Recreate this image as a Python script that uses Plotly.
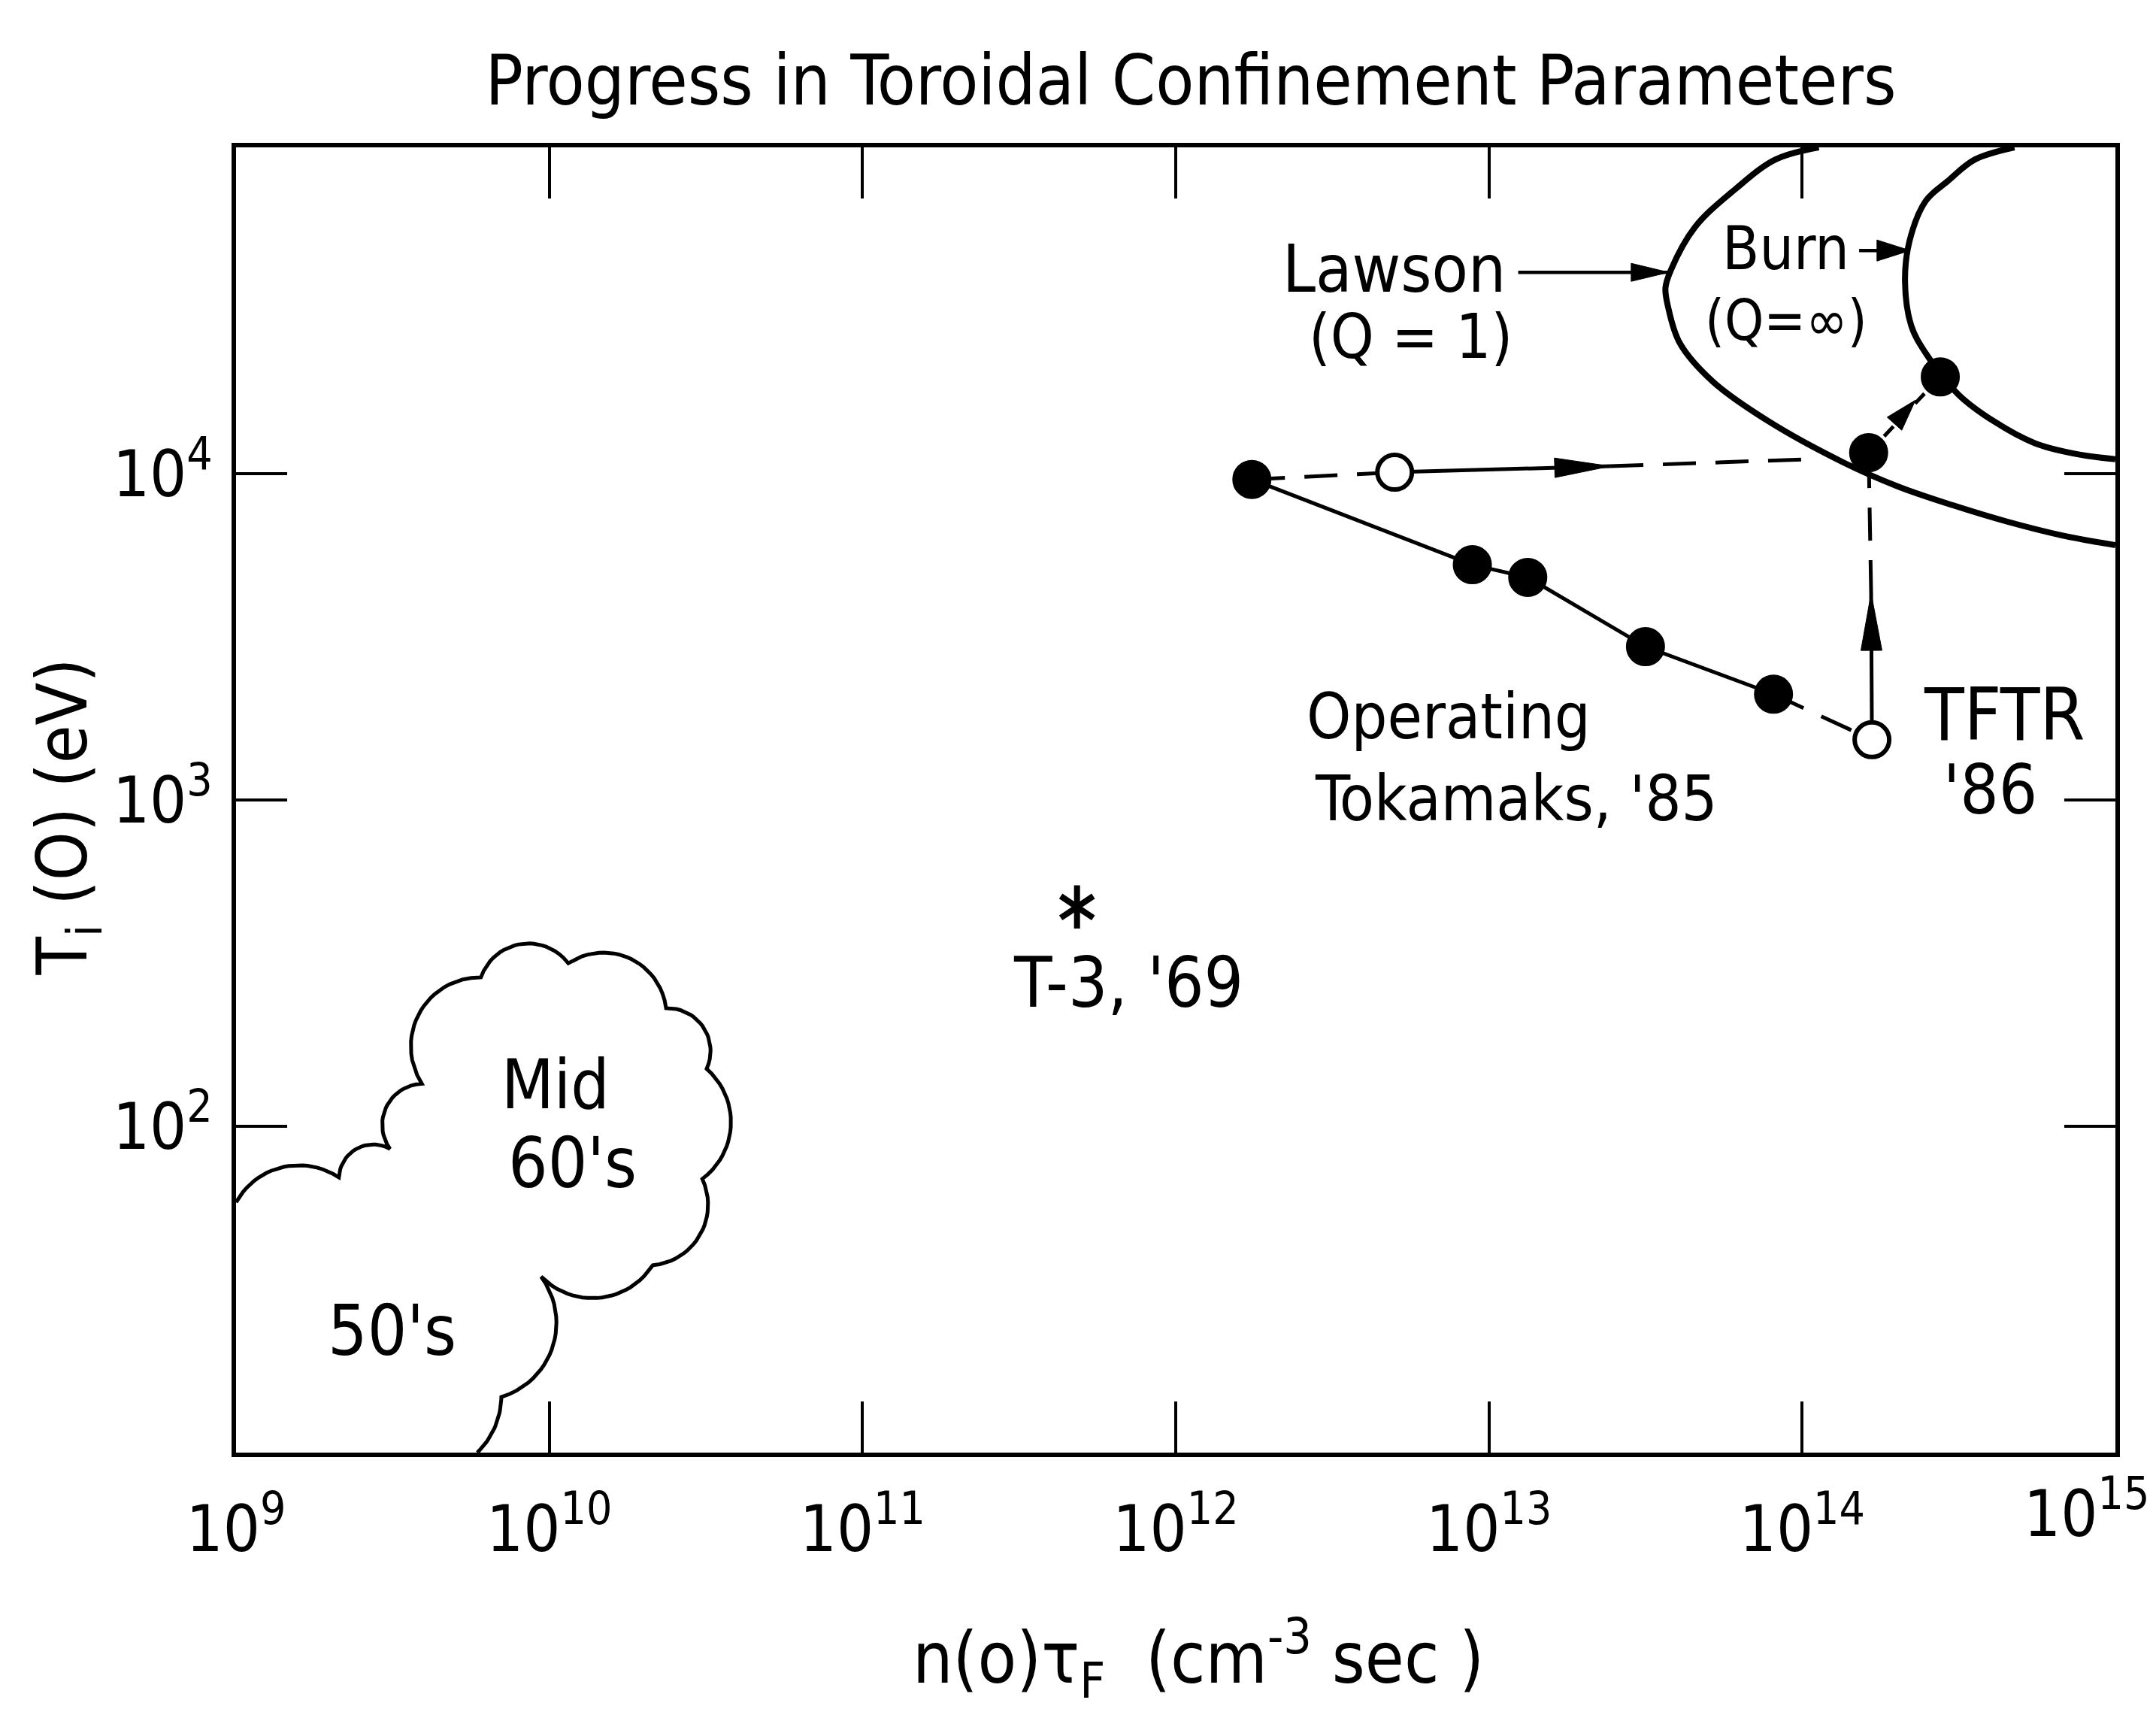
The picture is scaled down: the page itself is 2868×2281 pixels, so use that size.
import numpy as np
import plotly.graph_objects as go

# ---------------- values ----------------
# operating tokamaks, 1985 (filled dots on the solid line)
op_ntau = [1.75e12, 8.85e12, 1.33e13, 3.16e13, 8.1e13]
op_T = [9600, 5260, 4810, 2950, 2110]

# TFTR 1986 (open dot) and its projected path
tftr86_ntau, tftr86_T = 1.67e14, 1530
tftr_q1_ntau, tftr_q1_T = 1.63e14, 11600        # filled dot on the Lawson curve
tftr_burn_ntau, tftr_burn_T = 2.76e14, 19800    # filled dot on the burn curve
vert_tip_ntau, vert_tip_T = 1.66e14, 4300       # head of the upward arrow
diag_tip_ntau, diag_tip_T = 2.30e14, 16800      # small arrow between the two

# open dot at 10 keV and the horizontal path to the Lawson curve
hot_ntau, hot_T = 5.0e12, 10100
hor_tip_ntau, hor_tip_T = 2.44e13, 10540
hor_end_ntau, hor_end_T = 1.04e14, 11070

# T-3, 1969
t3_ntau, t3_T = 4.84e11, 470

# Lawson (Q = 1) curve
lawson_ntau = [1.13e14, 8.22e13, 6.10e13, 4.55e13, 3.81e13, 3.66e13, 3.73e13, 4.07e13,
               5.20e13, 7.78e13, 1.36e14, 2.02e14, 3.03e14, 4.51e14, 6.75e14, 1.0e15]
lawson_T = [1.0e5, 91800, 74300, 57000, 42100, 37100, 32500, 25100,
            19100, 14500, 10800, 9140, 8000, 7130, 6470, 6040]

# Burn (Q = infinity) curve
burn_ntau = [4.76e14, 3.56e14, 2.91e14, 2.48e14, 2.20e14, 2.13e14, 2.23e14, 2.48e14,
             3.15e14, 4.08e14, 5.53e14, 7.45e14, 1.0e15]
burn_T = [1.0e5, 91800, 78700, 68500, 51500, 38700, 28400, 23400,
          17500, 14500, 12400, 11500, 11070]

# cusps of the "mid 60's / 50's" cloud outline
cloud_ntau = [1.0e9, 2.13e9, 3.10e9, 3.92e9, 6.05e9, 1.15e10, 2.36e10, 3.18e10,
              3.08e10, 2.14e10, 9.42e9, 7.03e9, 5.89e9]
cloud_T = [58.5, 69.7, 85.3, 135, 286, 316, 230, 150, 69.0, 37.5, 34.6, 14.8, 10]
cloud_bulge = [0.22, 0.28, 0.3, 0.3, 0.3, 0.28, 0.28, 0.24, 0.26, 0.24, 0.26, 0.1]

# arrows pointing from the labels to the curves (tail, tip)
lawson_arrow_ntau, lawson_arrow_T = [1.24e13, 3.75e13], [41400, 41400]
burn_arrow_ntau, burn_arrow_T = [1.52e14, 2.21e14], [48300, 48300]

x_tickvals = [1e9, 1e10, 1e11, 1e12, 1e13, 1e14]
x_ticktext = ["10<sup>%d</sup>" % k for k in range(9, 15)]
y_tickvals = [1e2, 1e3, 1e4]
y_ticktext = ["10<sup>2</sup>", "10<sup>3</sup>", "10<sup>4</sup>"]

# ---------------- styles ----------------
W, H = 2868, 2281
ML, MR, MT, MB = 306, 62, 188, 357
FONT = "Liberation Sans Narrow, DejaVu Sans Condensed, Arial Narrow, sans-serif"
INK = "black"
DASH = "44px,26px"
TICK_SIZE = 86

px_x = (W - ML - MR) / 6.0   # pixels per decade
px_y = (H - MT - MB) / 4.0


def to_px(x, y):
    return np.log10(x) * px_x, np.log10(y) * px_y


def from_px(u, v):
    return 10 ** (np.asarray(u) / px_x), 10 ** (np.asarray(v) / px_y)


def scallops(xs, ys, bulges, n=24):
    # round bumps between consecutive cusps, bulging outward (path is clockwise)
    u, v = to_px(np.array(xs), np.array(ys))
    out_u, out_v = [u[0]], [v[0]]
    for i in range(len(u) - 1):
        du, dv = u[i + 1] - u[i], v[i + 1] - v[i]
        c = np.hypot(du, dv)
        h = bulges[i] * c
        R = (c * c / 4 + h * h) / (2 * h)
        nu, nv = -dv / c, du / c
        t = np.linspace(0, 1, n)[1:]
        s = (t - 0.5) * c
        off = np.sqrt(np.maximum(R * R - s * s, 0)) - (R - h)
        out_u += list(u[i] + t * du + nu * off)
        out_v += list(v[i] + t * dv + nv * off)
    return from_px(out_u, out_v)


fig = go.Figure()


def line(x, y, dash="solid", width=5, shape="linear"):
    fig.add_trace(go.Scatter(x=x, y=y, mode="lines", hoverinfo="skip",
                             line=dict(color=INK, width=width, dash=dash, shape=shape)))


def head(x0, y0, x1, y1, length, half):
    # long narrow filled arrowhead, tip at (x1, y1), pointing away from (x0, y0)
    u0, v0 = to_px(x0, y0)
    u1, v1 = to_px(x1, y1)
    d = np.hypot(u1 - u0, v1 - v0)
    eu, ev = (u1 - u0) / d, (v1 - v0) / d
    bu, bv = u1 - eu * length, v1 - ev * length
    hx, hy = from_px([u1, bu - ev * half, bu + ev * half, u1],
                     [v1, bv + eu * half, bv - eu * half, v1])
    fig.add_trace(go.Scatter(x=hx, y=hy, mode="lines", fill="toself", fillcolor=INK,
                             hoverinfo="skip", line=dict(color=INK, width=1)))


# curves
line(lawson_ntau, lawson_T, width=8, shape="spline")
line(burn_ntau, burn_T, width=8, shape="spline")

cx, cy = scallops(cloud_ntau, cloud_T, cloud_bulge)
line(cx, cy, width=5)

# paths
line(op_ntau, op_T, width=5)
line([op_ntau[-1], tftr86_ntau], [op_T[-1], tftr86_T], dash=DASH)
line([op_ntau[0], hot_ntau], [op_T[0], hot_T], dash=DASH)
line([hot_ntau, hor_tip_ntau], [hot_T, hor_tip_T])
line([hor_tip_ntau, hor_end_ntau], [hor_tip_T, hor_end_T], dash=DASH)
line([tftr86_ntau, vert_tip_ntau], [tftr86_T, vert_tip_T])
line([vert_tip_ntau, tftr_q1_ntau], [vert_tip_T, tftr_q1_T], dash=DASH)
line([tftr_q1_ntau, tftr_burn_ntau], [tftr_q1_T, tftr_burn_T], dash="18px,12px")
line(lawson_arrow_ntau, lawson_arrow_T, width=4.5)
line(burn_arrow_ntau, burn_arrow_T, width=4.5)

# arrowheads
head(hot_ntau, hot_T, hor_tip_ntau, hor_tip_T, 74, 13)
head(tftr86_ntau, tftr86_T, vert_tip_ntau, vert_tip_T, 76, 14)
head(tftr_q1_ntau, tftr_q1_T, diag_tip_ntau, diag_tip_T, 42, 13)
head(lawson_arrow_ntau[0], lawson_arrow_T[0], lawson_arrow_ntau[1], lawson_arrow_T[1], 50, 12)
head(burn_arrow_ntau[0], burn_arrow_T[0], burn_arrow_ntau[1], burn_arrow_T[1], 44, 14)

# dots
fig.add_trace(go.Scatter(
    x=op_ntau + [tftr_q1_ntau, tftr_burn_ntau], y=op_T + [tftr_q1_T, tftr_burn_T],
    mode="markers", hoverinfo="skip",
    marker=dict(size=50, color=INK, line=dict(color=INK, width=2))))
fig.add_trace(go.Scatter(
    x=[hot_ntau, tftr86_ntau], y=[hot_T, tftr86_T], mode="markers", hoverinfo="skip",
    marker=dict(size=46, color="white", line=dict(color=INK, width=6))))

# T-3 asterisk
for sym in ["y-up-open", "y-down-open"]:
    fig.add_trace(go.Scatter(x=[t3_ntau], y=[t3_T], mode="markers", hoverinfo="skip",
                             marker=dict(symbol=sym, size=36, color=INK,
                                         line=dict(color=INK, width=8))))


# labels (positions in log10 units)
def label(text, lx, ly, size=96, anchor="center"):
    fig.add_annotation(x=lx, y=ly, xref="x", yref="y", text=text, showarrow=False,
                       xanchor=anchor, yanchor="middle",
                       font=dict(family=FONT, size=size, color=INK))


label("Lawson", 12.696, 4.627, size=88)
label("(Q = 1)", 12.751, 4.420, size=82)
label("Burn", 13.948, 4.689, size=80)
label("(Q=\u221e)", 13.948, 4.470, size=74)
label("Operating", 12.871, 3.256, size=84)
label("Tokamaks, '85", 13.087, 3.005, size=84)
label("TFTR", 14.644, 3.260, size=96)
label("'86", 14.600, 3.032, size=90)
label("T-3, '69", 11.849, 2.440, size=92)
label("Mid", 10.020, 2.129, size=90)
label("60's", 10.073, 1.887, size=92)
label("50's", 9.497, 1.373, size=92)

# last x tick label sits at the right edge of the page, so place it by hand
fig.add_annotation(x=15, y=-0.043, xref="x", yref="paper", showarrow=False,
                   xanchor="right", yanchor="middle", xshift=47,
                   text="10<sup>15</sup>",
                   font=dict(family=FONT, size=TICK_SIZE, color=INK))

# axis titles
fig.add_annotation(x=0.512, y=-0.158, xref="paper", yref="paper", showarrow=False,
                   xanchor="center", yanchor="middle",
                   text="n(o)\u03c4<sub>F</sub>  (cm<sup>-3</sup> sec )",
                   font=dict(family=FONT, size=94, color=INK))
fig.add_annotation(x=-0.0896, y=0.487, xref="paper", yref="paper", showarrow=False,
                   xanchor="center", yanchor="middle",
                   text="T<sub>i</sub> (O) (eV)", textangle=-90,
                   font=dict(family=FONT, size=92, color=INK))

axis_common = dict(type="log", showgrid=False, zeroline=False, showline=True,
                   linecolor=INK, linewidth=6, mirror="ticks", ticks="inside",
                   tickcolor=INK, tickwidth=4, ticklen=68,
                   tickfont=dict(family=FONT, size=TICK_SIZE, color=INK))

fig.update_layout(
    width=W, height=H,
    margin=dict(l=ML, r=MR, t=MT, b=MB),
    paper_bgcolor="white", plot_bgcolor="white",
    showlegend=False,
    title=dict(text="Progress in Toroidal Confinement Parameters",
               x=0.508, xref="paper", xanchor="center",
               y=1 - 98 / H, yanchor="middle",
               font=dict(family=FONT, size=93, color=INK)),
    xaxis=dict(range=[9, 15], tickvals=x_tickvals, ticktext=x_ticktext,
               ticklabelstandoff=22, **axis_common),
    yaxis=dict(range=[1, 5], tickvals=y_tickvals, ticktext=y_ticktext,
               ticklabelstandoff=8, **axis_common),
)

fig.write_html("out.html")
